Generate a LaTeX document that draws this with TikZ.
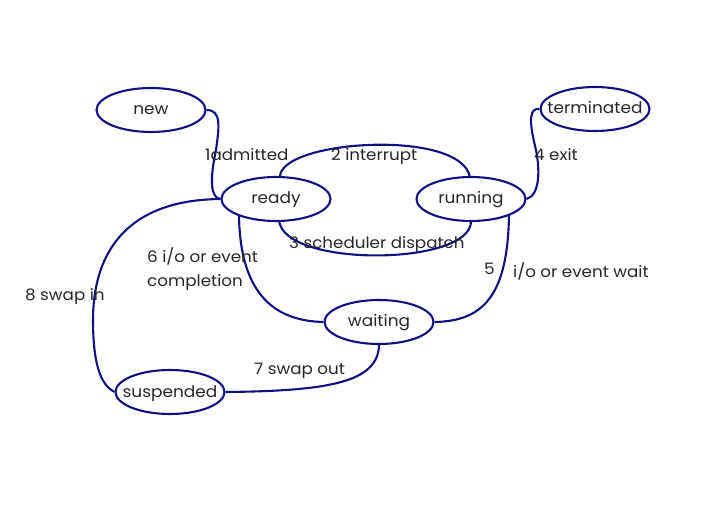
\documentclass[tikz,border=0pt]{standalone}
\usepackage{fontspec}
\setmainfont{Poppins}[FakeStretch=1.06]
\usetikzlibrary{shapes.geometric}
\definecolor{navyline}{RGB}{16,16,132}
\newcommand\sttxt[1]{\raisebox{-5pt}[0pt][0pt]{\makebox[0pt]{#1}}}
\tikzset{
  state/.style={ellipse, draw=navyline, line width=2.1pt, minimum width=109pt, minimum height=44pt, inner sep=0pt, font=\fontsize{16}{18}\selectfont, text=black!85},
  conn/.style={draw=navyline, line width=2.1pt},
  lbl/.style={font=\fontsize{15.8}{18}\selectfont, text=black!85, inner sep=0pt, anchor=west}
}
\begin{document}
\begin{tikzpicture}[x=1pt,y=-1pt]
\useasboundingbox (0,0) rectangle (720,510);
\node[state] (new) at (151,110) {\sttxt{new}};
\node[state] (term) at (595,109) {\sttxt{terminated}};
\node[state] (ready) at (276,199) {\sttxt{ready}};
\node[state] (run) at (471,199) {\sttxt{running}};
\node[state] (wait) at (379,322) {\sttxt{waiting}};
\node[state] (susp) at (170,392) {\sttxt{suspended}};

\coordinate (rtop) at (280,177.5);
\coordinate (rbot) at (279,220.5);
\coordinate (rbl) at (239,215);
\coordinate (ntop) at (470,177.5);
\coordinate (nbot) at (471,221);
\coordinate (nbr) at (509,214);

\draw[conn] (new.east) .. controls (222,110) and (219,128) .. (216,150) .. controls (210,178) and (210,198) .. (ready.west);
\draw[conn] (rtop) .. controls (278,140) and (462,128) .. (ntop);
\draw[conn] (rbot) .. controls (284,268) and (472,266) .. (nbot);
\draw[conn] (run.east) .. controls (540,195) and (540,170) .. (536,150) .. controls (528,118) and (530,108) .. (term.west);
\draw[conn] (nbr) .. controls (508,300) and (480,321) .. (wait.east);
\draw[conn] (rbl) .. controls (240,300) and (280,321) .. (wait.west);
\draw[conn] (ready.west) .. controls (120,200) and (93,260) .. (93,320) .. controls (93,370) and (103,386) .. (susp.west);
\draw[conn] (susp.east) .. controls (330,391) and (378,382) .. (wait.south);

\node[lbl] (l1) at (205,155) {1admitted};
\node[lbl] (l2) at (331,157) {2 interrupt};
\node[lbl] (l3) at (289,245) {3 scheduler dispatch};
\node[lbl] (l4) at (534,155) {4 exit};
\node[lbl] (l5a) at (484,269) {5};
\node[lbl] (l5b) at (513,271) {i/o or event wait};
\node[lbl] (l6a) at (147,256) {6 i/o or event};
\node[lbl] (l6b) at (147,283) {completion};
\node[lbl] (l7) at (254,371) {7 swap out};
\node[lbl] (l8) at (25,297) {8 swap in};
\end{tikzpicture}
\end{document}
